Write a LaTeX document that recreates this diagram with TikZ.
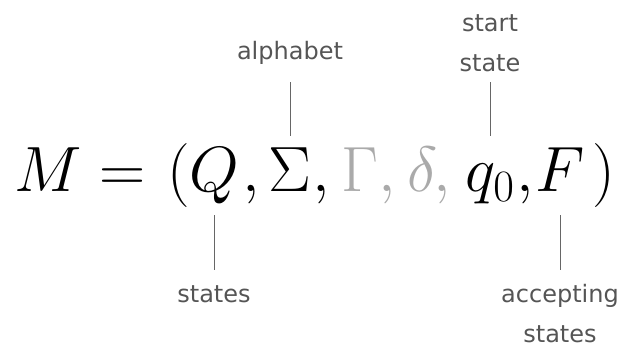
\RequirePackage{fix-cm}
\documentclass[tikz,border=0pt]{standalone}
\usepackage{amsmath}
\usepackage{fontspec}
\newfontfamily\labelfont{DejaVu Sans}
\usepackage{tikz}
\usetikzlibrary{positioning}
\definecolor{labelgray}{HTML}{555555}
\definecolor{linegray}{HTML}{666666}
\definecolor{fadedgray}{HTML}{AAAAAA}

\begin{document}
\begin{tikzpicture}[x=1pt, y=1pt,
    sym/.style={inner sep=0, outer sep=0, anchor=base, font=\fontsize{64}{64}\selectfont, text height=43.7pt, text depth=16pt},
    lbl/.style={inner sep=0, outer sep=0, align=center, text=labelgray, font=\labelfont\fontsize{24}{40}\selectfont},
    tick/.style={draw=linegray, line width=1pt}]
    \useasboundingbox (0,-345) rectangle (621,0);

    % 元组
    \node[sym] (M) at (48.5,-191.5) {$M$};
    \node[sym] (eq) at (123,-191.5) {$=$};
    \node[sym] (lp) at (178.5,-191.5) {$($};
    \node[sym] (Q) at (214,-191.5) {$Q$};
    \node[sym] (Sigma) at (290,-191.5) {$\Sigma$};
    \node[sym, text=fadedgray] (Gamma) at (359.5,-191.5) {$\Gamma$};
    \node[sym, text=fadedgray] (delta) at (422.5,-191.5) {$\delta$};
    \node[sym] (q0) at (490,-191.5) {$q_0$};
    \node[sym] (F) at (560,-191.5) {$F$};
    \node[sym] (rp) at (603.5,-191.5) {$)$};
    \foreach \x/\c [count=\i] in {251.5/black, 321/black, 387.5/fadedgray, 442.5/fadedgray, 525/black}
        \node[sym, text=\c] (comma\i) at (\x,-191.5) {$,$};

    % 上方标注
    \node[lbl, above=83.8pt of Sigma] (alphabet) {alphabet};
    \node[lbl, above=76.3pt of q0] (start) {start\\state};
    \draw[tick, shorten <=18pt, shorten >=11.8pt] (alphabet) -- (Sigma);
    \draw[tick, shorten <=10.5pt, shorten >=11.8pt] (start) -- (q0);

    % 下方标注
    \node[lbl, below=78pt of Q] (states) {states};
    \node[lbl, below=77pt of F] (accepting) {accepting\\states};
    \draw[tick, shorten <=7.5pt, shorten >=15.5pt] (Q) -- (states);
    \draw[tick, shorten <=7.5pt, shorten >=14.5pt] (F) -- (accepting);
\end{tikzpicture}
\end{document}
